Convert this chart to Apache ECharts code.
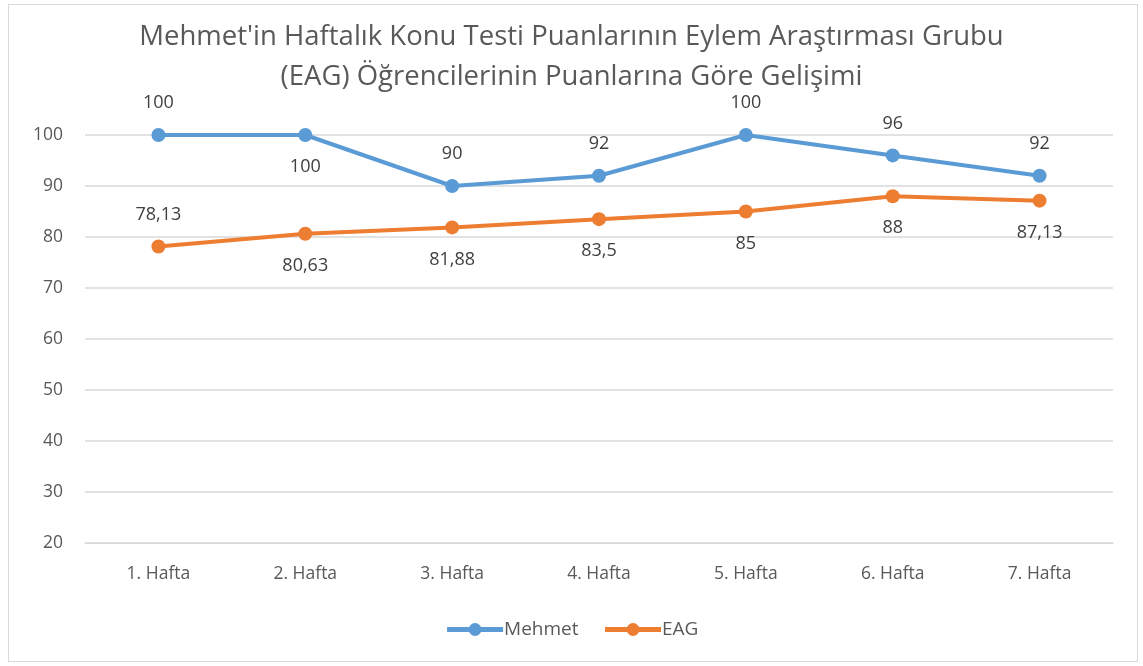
<!DOCTYPE html>
<html><head><meta charset="utf-8">
<script src="https://cdn.jsdelivr.net/npm/echarts@6/dist/echarts.min.js"></script>
<style>html,body{margin:0;padding:0;background:#fff}
#frame{position:absolute;left:8px;top:4px;width:1128px;height:656px;border:1px solid #d9d9d9}
#c{position:absolute;left:0;top:0;width:1143px;height:666px}</style>
</head><body><div id="frame"></div><div id="c"></div>
<script>
const categories = ['1. Hafta','2. Hafta','3. Hafta','4. Hafta','5. Hafta','6. Hafta','7. Hafta'];
const mehmet = [100,100,90,92,100,96,92];
const eag = [78.13,80.63,81.88,83.5,85,88,87.13];
const mehmetLabelPos = ['top','bottom','top','top','top','top','top'];
const eagLabelPos = ['top','bottom','bottom','bottom','bottom','bottom','bottom'];
const fmt = v => String(v).replace('.', ',');
const font = 'Open Sans';
const chart = echarts.init(document.getElementById('c'));
function mk(vals, pos){
  return vals.map((v,i)=>({value:v,label:{position:pos[i]}}));
}
chart.setOption({
  animation:false,
  textStyle:{fontFamily:font},
  title:{text:"Mehmet'in Haftalık Konu Testi Puanlarının Eylem Araştırması Grubu\n(EAG) Öğrencilerinin Puanlarına Göre Gelişimi",
    left:'center', top:12, textStyle:{fontFamily:font,fontSize:27.5,fontWeight:'normal',color:'#595959',lineHeight:40}},
  legend:{bottom:22,left:'center',itemWidth:56,itemHeight:16,itemGap:24,
    lineStyle:{width:5},
    textStyle:{fontFamily:font,fontSize:19,color:'#595959',padding:[0,0,0,-4]}},
  grid:{left:85,right:30,top:135,bottom:123},
  xAxis:{type:'category',data:categories,boundaryGap:true,
    axisLine:{lineStyle:{color:'#d9d9d9'}},axisTick:{show:false},
    axisLabel:{fontFamily:font,fontSize:17.5,color:'#595959',margin:22}},
  yAxis:{type:'value',min:20,max:100,interval:10,
    axisLine:{show:false},axisTick:{show:false},
    splitLine:{lineStyle:{color:'#d9d9d9',width:1.5}},
    axisLabel:{fontFamily:font,fontSize:17.5,color:'#595959',margin:22}},
  series:[
    {name:'Mehmet',type:'line',data:mk(mehmet,mehmetLabelPos),symbol:'circle',symbolSize:14,
     itemStyle:{color:'#5b9bd5'},lineStyle:{width:4,color:'#5b9bd5'},
     label:{show:true,formatter:p=>fmt(p.value),fontFamily:font,fontSize:18,color:'#404040',distance:16}},
    {name:'EAG',type:'line',data:mk(eag,eagLabelPos),symbol:'circle',symbolSize:14,
     itemStyle:{color:'#ed7d31'},lineStyle:{width:4,color:'#ed7d31'},
     label:{show:true,formatter:p=>fmt(p.value),fontFamily:font,fontSize:18,color:'#404040',distance:16}}
  ]
});
</script></body></html>
